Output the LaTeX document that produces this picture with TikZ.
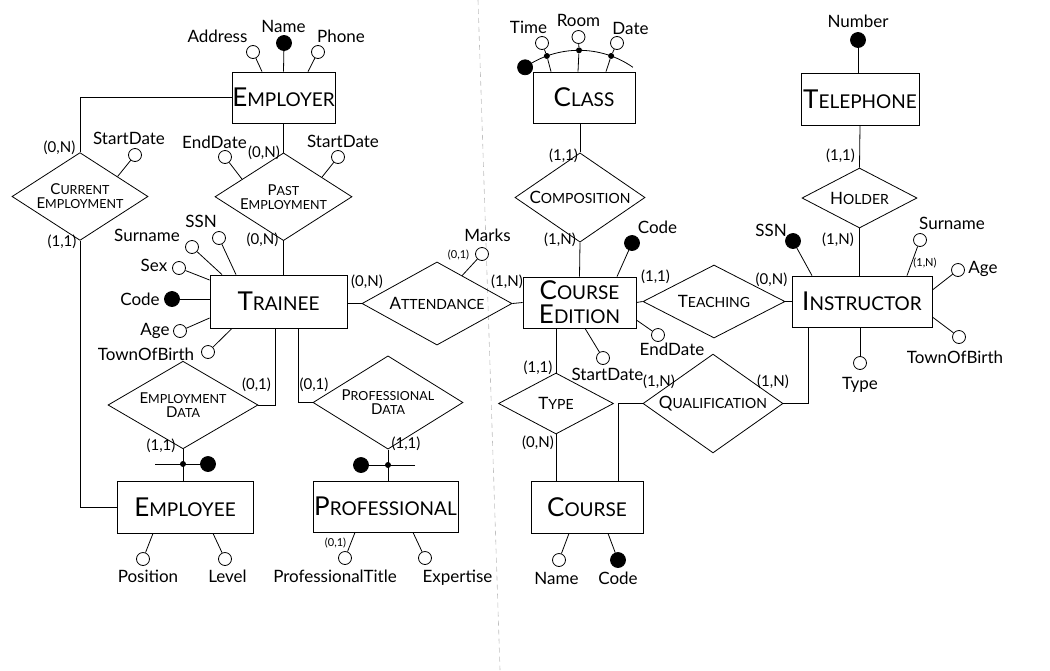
\documentclass[tikz,border=0pt]{standalone}
\usepackage{fontspec}
\setmainfont{Lato}
\usetikzlibrary{shapes.geometric}

\newcommand{\entname}[2]{{\fontsize{26}{24}\selectfont #1}{\fontsize{19}{24}\selectfont #2}}
\newcommand{\relname}[2]{{\fontsize{17}{15}\selectfont #1}{\fontsize{14}{15}\selectfont #2}}
\newcommand{\relsmall}[2]{{\fontsize{15}{14}\selectfont #1}{\fontsize{12.5}{14}\selectfont #2}}

\begin{document}
\begin{tikzpicture}[
  x=1pt, y=-1pt,
  line width=0.8pt,
  ent/.style={rectangle, draw, inner sep=0pt, align=center, font=\fontsize{19}{24}\selectfont},
  rel/.style={diamond, draw, inner sep=-6pt, align=center, font=\fontsize{14}{15}\selectfont},
  rel2/.style={rel, font=\fontsize{12.5}{14}\selectfont},
  attr/.style={circle, draw, fill=white, minimum size=13pt, inner sep=0pt},
  key/.style={circle, draw, fill=black, minimum size=15pt, inner sep=0pt},
  dot/.style={circle, fill=black, minimum size=6pt, inner sep=0pt},
  lbl/.style={font=\fontsize{17}{17}\selectfont, inner sep=0pt, text height=12pt, text depth=0pt},
  card/.style={font=\fontsize{15}{15}\selectfont, inner sep=0pt, text height=10.5pt, text depth=3.5pt},
  cardsm/.style={font=\fontsize{11}{11}\selectfont, inner sep=0pt, text height=8pt, text depth=2pt},
  divider/.style={gray!50, line width=0.6pt, dash pattern=on 5pt off 4pt}
]
  \useasboundingbox (0,0) rectangle (1050,670);
  \draw[divider] (478,0) -- (500,670);

  % entities
  \node[ent, minimum width=103, minimum height=51] (employer) at (283.5,97.5) {\entname{E}{MPLOYER}};
  \node[ent, minimum width=137, minimum height=53] (trainee) at (278.5,301.5) {\entname{T}{RAINEE}};
  \node[ent, minimum width=136, minimum height=52] (employee) at (185,507) {\entname{E}{MPLOYEE}};
  \node[ent, minimum width=145, minimum height=51] (professional) at (385.5,506.5) {\entname{P}{ROFESSIONAL}};
  \node[ent, minimum width=102, minimum height=51] (class) at (584,97.5) {\entname{C}{LASS}};
  \node[ent, minimum width=118, minimum height=52] (telephone) at (860,99) {\entname{T}{ELEPHONE}};
  \node[ent, minimum width=113, minimum height=51] (cedition) at (579.5,302.5) {\entname{C}{OURSE}\\\entname{E}{DITION}};
  \node[ent, minimum width=140, minimum height=51] (instructor) at (862,301.5) {\entname{I}{NSTRUCTOR}};
  \node[ent, minimum width=112, minimum height=52] (course) at (587,507) {\entname{C}{OURSE}};

  % relationships
  \node[rel2, minimum width=136, minimum height=67] (curemp) at (80,196.5) {\relsmall{C}{URRENT}\\\relsmall{E}{MPLOYMENT}};
  \node[rel2, minimum width=137, minimum height=67] (pastemp) at (283.5,196.75) {\relsmall{P}{AST}\\\relsmall{E}{MPLOYMENT}};
  \node[rel, minimum width=150, minimum height=73] (attendance) at (437,303.5) {\relname{A}{TTENDANCE}};
  \node[rel2, minimum width=150, minimum height=74] (empdata) at (183,405) {\relsmall{E}{MPLOYMENT}\\\relsmall{D}{ATA}};
  \node[rel2, minimum width=150, minimum height=73] (profdata) at (388,402.5) {\relsmall{P}{ROFESSIONAL}\\\relsmall{D}{ATA}};
  \node[rel, minimum width=130, minimum height=61] (composition) at (580,197.5) {\relname{C}{OMPOSITION}};
  \node[rel, minimum width=115, minimum height=60] (holder) at (859.5,198) {\relname{H}{OLDER}};
  \node[rel, minimum width=142, minimum height=73] (teaching) at (714,301.5) {\relname{T}{EACHING}};
  \node[rel, minimum width=115, minimum height=61] (type) at (556,403.5) {\relname{T}{YPE}};
  \node[rel, minimum width=140, minimum height=73] (qualification) at (713,403.5) {\relname{Q}{UALIFICATION}};

  % links
  \draw (employer.west) -| (curemp.north);
  \draw (curemp.south) |- (employee.west);
  \draw (employer.south) -- (pastemp.north);
  \draw (pastemp.south) -- (pastemp.south |- trainee.north);
  \draw (attendance.west) -- (attendance.west -| trainee.east);
  \draw (attendance.east) -- (cedition.west);
  \draw ([xshift=-3.5pt]trainee.south) |- (empdata.east);
  \draw ([xshift=19.5pt]trainee.south) |- (profdata.west);
  \draw (empdata.south) -- (empdata.south |- employee.north);
  \draw (profdata.south) -- (profdata.south |- professional.north);
  \draw (composition.north) -- (composition.north |- class.south);
  \draw (composition.south) -- (cedition.north);
  \draw (telephone.south) -- (holder.north);
  \draw (holder.south) -- (holder.south |- instructor.north);
  \draw (cedition.east) -- (teaching.west);
  \draw (teaching.east) -- (instructor.west);
  \draw (type.north) -- (type.north |- cedition.south);
  \draw (type.south) -- (type.south |- course.north);
  \draw (qualification.east) -| ([xshift=-54pt]instructor.south);
  \draw (qualification.west) -| ([xshift=31pt]course.north);

  % external identifiers
  \coordinate (ee-x) at (155,464);
  \node[dot] (ee-dot) at (183,464) {};
  \node[key] (ee-key) at (208,464) {};
  \draw (ee-x) -- (ee-key);
  \coordinate (pr-x) at (415,465);
  \node[dot] (pr-dot) at (388,465) {};
  \node[key] (pr-key) at (361,465) {};
  \draw (pr-x) -- (pr-key);

  % employer attributes
  \node[attr] (er-addr) at (253,52) {};
  \node[key] (er-name) at (284,43) {};
  \node[attr] (er-phone) at (318,52) {};
  \draw (er-addr) -- ([xshift=-21.5pt]employer.north);
  \draw (er-name) -- (employer.north);
  \draw (er-phone) -- ([xshift=24.5pt]employer.north);
  \node[lbl] (er-addr-t) at (217.5,36) {Address};
  \node[lbl] (er-name-t) at (283.5,26.5) {Name};
  \node[lbl] (er-phone-t) at (341,36) {Phone};

  % relationship attributes
  \node[attr] (ce-start) at (135,155) {};
  \draw (ce-start) -- (curemp.28);
  \node[lbl] (ce-start-t) at (129,138) {StartDate};
  \node[attr] (pe-end) at (225,157) {};
  \draw (pe-end) -- (pastemp.157);
  \node[lbl] (pe-end-t) at (214.5,142.5) {EndDate};
  \node[attr] (pe-start) at (338,157) {};
  \draw (pe-start) -- (pastemp.27);
  \node[lbl] (pe-start-t) at (343,141) {StartDate};
  \node[attr] (at-marks) at (482,254) {};
  \draw (at-marks) -- (attendance.48);
  \node[lbl] (at-marks-t) at (487.5,235.5) {Marks};
  \node[cardsm] (at-marks-c) at (458.5,255) {(0,1)};

  % trainee attributes
  \node[attr] (tr-ssn) at (219,238) {};
  \node[attr] (tr-sur) at (192,247) {};
  \node[attr] (tr-sex) at (179,268) {};
  \node[key] (tr-code) at (172,299) {};
  \node[attr] (tr-age) at (180,331) {};
  \node[attr] (tr-town) at (208,352) {};
  \draw (tr-ssn) -- ([xshift=-42.5pt]trainee.north);
  \draw (tr-sur) -- ([xshift=-56.5pt]trainee.north);
  \draw (tr-sex) -- ([yshift=21.5pt]trainee.west);
  \draw (tr-code) -- ([yshift=2.5pt]trainee.west);
  \draw (tr-age) -- ([yshift=-16.5pt]trainee.west);
  \draw (tr-town) -- ([xshift=-46.5pt]trainee.south);
  \node[lbl] (tr-ssn-t) at (201,221) {SSN};
  \node[lbl] (tr-sur-t) at (147,235.5) {Surname};
  \node[lbl] (tr-sex-t) at (154,265.5) {Sex};
  \node[lbl] (tr-code-t) at (140,299) {Code};
  \node[lbl] (tr-age-t) at (155,329) {Age};
  \node[lbl] (tr-town-t) at (146,354) {TownOfBirth};

  % employee and professional attributes
  \node[attr] (ee-pos) at (143,559) {};
  \node[attr] (ee-lev) at (225,559) {};
  \draw (ee-pos) -- ([xshift=-32pt]employee.south);
  \draw (ee-lev) -- ([xshift=28pt]employee.south);
  \node[lbl] (ee-pos-t) at (148,576.5) {Position};
  \node[lbl] (ee-lev-t) at (227.5,576.5) {Level};
  \node[attr] (pr-title) at (345,558) {};
  \node[attr] (pr-exp) at (425,558) {};
  \draw (pr-title) -- ([xshift=-30.5pt]professional.south);
  \draw (pr-exp) -- ([xshift=27.5pt]professional.south);
  \node[cardsm] (pr-title-c) at (335.5,543) {(0,1)};
  \node[lbl] (pr-title-t) at (335,576.5) {ProfessionalTitle};
  \node[lbl] (pr-exp-t) at (457.5,576.5) {Expertise};

  % class identifier
  \coordinate (cl-arc) at (579,144.3);
  \draw ([shift={(125:94pt)}]cl-arc) arc[start angle=125, end angle=55, radius=94pt];
  \node[key] (cl-key) at ([shift={(125:94pt)}]cl-arc) {};
  \node[dot] (cl-dt) at ([shift={(110:94pt)}]cl-arc) {};
  \node[dot] (cl-dr) at ([shift={(90:94pt)}]cl-arc) {};
  \node[dot] (cl-dd) at ([shift={(70:94pt)}]cl-arc) {};
  \node[attr] (cl-time) at (542,43) {};
  \node[attr] (cl-room) at (578.5,37) {};
  \node[attr] (cl-date) at (617,43) {};
  \draw ([xshift=-33pt]class.north) -- (cl-dt) -- (cl-time);
  \draw ([xshift=-6pt]class.north) -- (cl-dr) -- (cl-room);
  \draw ([xshift=22pt]class.north) -- (cl-dd) -- (cl-date);
  \node[lbl] (cl-time-t) at (528.5,27.5) {Time};
  \node[lbl] (cl-room-t) at (578.5,20.5) {Room};
  \node[lbl] (cl-date-t) at (630.5,28.5) {Date};

  % telephone
  \node[key] (te-num) at (858,40) {};
  \draw (te-num) -- (te-num |- telephone.north);
  \node[lbl] (te-num-t) at (858,21) {Number};

  % course edition attributes
  \node[key] (cd-code) at (632,243) {};
  \node[attr] (cd-end) at (658,335) {};
  \node[attr] (cd-start) at (603,358) {};
  \draw (cd-code) -- ([xshift=37.5pt]cedition.north);
  \draw (cd-end) -- ([yshift=-17.5pt]cedition.east);
  \draw (cd-start) -- ([xshift=5.5pt]cedition.south);
  \node[lbl] (cd-code-t) at (657.5,227.5) {Code};
  \node[lbl] (cd-end-t) at (672,349.5) {EndDate};
  \node[lbl] (cd-start-t) at (607.5,374) {StartDate};

  % instructor attributes
  \node[key] (in-ssn) at (793,241) {};
  \node[attr] (in-sur) at (920,240) {};
  \node[attr] (in-age) at (958,270) {};
  \node[attr] (in-town) at (959,337) {};
  \node[attr] (in-type) at (860,363) {};
  \draw (in-ssn) -- ([xshift=-50pt]instructor.north);
  \draw (in-sur) -- ([xshift=45pt]instructor.north);
  \draw (in-age) -- ([yshift=11.5pt]instructor.east);
  \draw (in-town) -- ([yshift=-15.5pt]instructor.east);
  \draw (in-type) -- (in-type |- instructor.south);
  \node[lbl] (in-ssn-t) at (771,230) {SSN};
  \node[lbl] (in-sur-t) at (952,223) {Surname};
  \node[cardsm] (in-sur-c) at (925,263) {(1,N)};
  \node[lbl] (in-age-t) at (983,267.5) {Age};
  \node[lbl] (in-town-t) at (955,357.5) {TownOfBirth};
  \node[lbl] (in-type-t) at (860,383) {Type};

  % course attributes
  \node[attr] (co-name) at (559,560) {};
  \node[key] (co-code) at (618,560) {};
  \draw (co-name) -- ([xshift=-18pt]course.south);
  \draw (co-code) -- ([xshift=21pt]course.south);
  \node[lbl] (co-name-t) at (556.5,578.5) {Name};
  \node[lbl] (co-code-t) at (618,578.5) {Code};

  % cardinalities
  \node[card] at (59.5,149) {(0,N)};
  \node[card] at (62,242.5) {(1,1)};
  \node[card] at (264,153.5) {(0,N)};
  \node[card] at (262.5,241) {(0,N)};
  \node[card] at (367,282.5) {(0,N)};
  \node[card] at (507,282.5) {(1,N)};
  \node[card] at (256.5,386) {(0,1)};
  \node[card] at (314,386) {(0,1)};
  \node[card] at (161,446.5) {(1,1)};
  \node[card] at (406,445) {(1,1)};
  \node[card] at (563.5,156.5) {(1,1)};
  \node[card] at (560,241) {(1,N)};
  \node[card] at (840.5,157) {(1,1)};
  \node[card] at (838,241) {(1,N)};
  \node[card] at (655.5,277.5) {(1,1)};
  \node[card] at (771.5,281) {(0,N)};
  \node[card] at (538,369) {(1,1)};
  \node[card] at (538,443.5) {(0,N)};
  \node[card] at (659,382.5) {(1,N)};
  \node[card] at (773,382.5) {(1,N)};
\end{tikzpicture}
\end{document}
